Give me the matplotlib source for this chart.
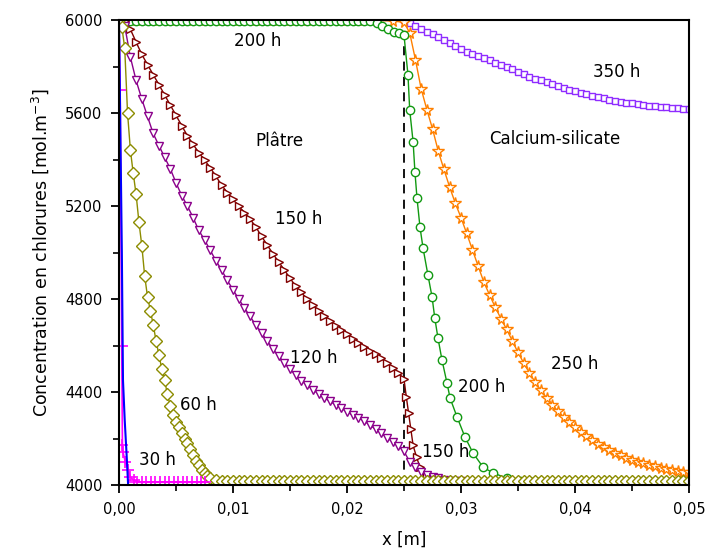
import matplotlib.pyplot as plt
from matplotlib.ticker import MultipleLocator, FuncFormatter
import numpy as np

# positions in mm (converted to m when plotted), concentrations in mol/m3
blue_x = [0.0, 0.05, 0.1, 0.2, 0.25, 0.35, 0.5, 0.7, 0.8]
blue_y = [6000, 5800, 5600, 5200, 5000, 4450, 4280, 4100, 4000]

h30_x = [0.0, 0.1, 0.24, 0.3, 0.35, 0.55, 0.8, 1.0, 1.3, 1.6, 2.0, 2.4, 2.8,
         3.2, 3.6, 4.0, 4.4, 4.8, 5.2, 5.6, 6.0, 6.4, 6.8, 7.2, 7.5]
h30_y = [6000, 5700, 4600, 4172, 4142, 4100, 4065, 4034, 4020, 4015, 4013, 4013,
         4013, 4013, 4013, 4013, 4013, 4013, 4013, 4013, 4013, 4013, 4013, 4013,
         4013]

h60_x = [0.0, 0.25, 0.5, 0.75, 1.0, 1.25, 1.5, 1.75, 2.0, 2.25, 2.5, 2.75, 3.0,
         3.25, 3.5, 3.75, 4.0, 4.25, 4.5, 4.75, 5.0, 5.25, 5.5, 5.75, 6.0, 6.25,
         6.5, 6.75, 7.0, 7.25, 7.5, 7.75, 8.0, 8.5, 9.0, 9.5, 10.0, 10.5, 11.0,
         11.5, 12.0, 12.5, 13.0, 13.5, 14.0, 14.5, 15.0, 15.5, 16.0, 16.5, 17.0,
         17.5, 18.0, 18.5, 19.0, 19.5, 20.0, 20.5, 21.0, 21.5, 22.0, 22.5, 23.0,
         23.5, 24.0, 24.5, 25.0, 25.5, 26.0, 26.5, 27.0, 27.5, 28.0, 28.5, 29.0,
         29.5, 30.0, 30.5, 31.0, 31.5, 32.0, 32.5, 33.0, 33.5, 34.0, 34.5, 35.0,
         35.5, 36.0, 36.5, 37.0, 37.5, 38.0, 38.5, 39.0, 39.5, 40.0, 40.5, 41.0,
         41.5, 42.0, 42.5, 43.0, 43.5, 44.0, 44.5, 45.0, 45.5, 46.0, 46.5, 47.0,
         47.5, 48.0, 48.5, 49.0, 49.5, 50.0]
h60_y = [6000, 5970, 5880, 5600, 5440, 5340, 5250, 5130, 5030, 4900, 4810, 4750,
         4690, 4620, 4560, 4500, 4450, 4390, 4340, 4300, 4270, 4250, 4225, 4200,
         4180, 4155, 4130, 4105, 4085, 4065, 4050, 4038, 4030, 4022, 4018, 4017,
         4016, 4016, 4016, 4016, 4016, 4016, 4016, 4016, 4016, 4016, 4016, 4016,
         4016, 4016, 4016, 4016, 4016, 4016, 4016, 4016, 4016, 4016, 4016, 4016,
         4016, 4016, 4016, 4016, 4016, 4016, 4016, 4016, 4016, 4016, 4016, 4016,
         4016, 4016, 4016, 4016, 4016, 4016, 4016, 4016, 4016, 4016, 4016, 4016,
         4016, 4016, 4016, 4016, 4016, 4016, 4016, 4016, 4016, 4016, 4016, 4016,
         4016, 4016, 4016, 4016, 4016, 4016, 4016, 4016, 4016, 4016, 4016, 4016,
         4016, 4016, 4016, 4016, 4016, 4016, 4016, 4016, 4016]

h120_x = [0.0, 0.5, 1.0, 1.5, 2.0, 2.5, 3.0, 3.5, 4.0, 4.5, 5.0, 5.5, 6.0, 6.5,
          7.0, 7.5, 8.0, 8.5, 9.0, 9.5, 10.0, 10.5, 11.0, 11.5, 12.0, 12.5, 13.0,
          13.5, 14.0, 14.5, 15.0, 15.5, 16.0, 16.5, 17.0, 17.5, 18.0, 18.5, 19.0,
          19.5, 20.0, 20.5, 21.0, 21.5, 22.0, 22.5, 23.0, 23.5, 24.0, 24.5, 25.0,
          25.5, 26.0, 26.5, 27.0, 27.5, 28.0, 28.5, 29.0, 29.5, 30.0]
h120_y = [6000, 5975, 5840, 5740, 5660, 5585, 5512, 5460, 5410, 5360, 5300, 5245,
          5200, 5150, 5095, 5055, 5010, 4965, 4925, 4880, 4840, 4800, 4762, 4725,
          4688, 4655, 4620, 4585, 4555, 4525, 4498, 4473, 4448, 4430, 4410, 4392,
          4375, 4360, 4345, 4330, 4315, 4300, 4288, 4275, 4258, 4240, 4222, 4204,
          4186, 4168, 4145, 4100, 4078, 4058, 4045, 4035, 4028, 4022, 4019, 4017,
          4016]

h150_x = [0.0, 0.5, 1.0, 1.5, 2.0, 2.5, 3.0, 3.5, 4.0, 4.5, 5.0, 5.5, 6.0, 6.5,
          7.0, 7.5, 8.0, 8.5, 9.0, 9.5, 10.0, 10.5, 11.0, 11.5, 12.0, 12.5, 13.0,
          13.5, 14.0, 14.5, 15.0, 15.5, 16.0, 16.5, 17.0, 17.5, 18.0, 18.5, 19.0,
          19.5, 20.0, 20.5, 21.0, 21.5, 22.0, 22.5, 23.0, 23.5, 24.0, 24.5, 25.0,
          25.2, 25.4, 25.6, 25.8, 26.1, 26.4, 27.0, 27.6, 28.5, 30.0]
h150_y = [6000, 5995, 5960, 5905, 5852, 5808, 5765, 5722, 5678, 5634, 5590, 5546,
          5502, 5465, 5430, 5398, 5365, 5328, 5290, 5258, 5228, 5200, 5172, 5144,
          5110, 5070, 5032, 4995, 4960, 4925, 4890, 4855, 4828, 4800, 4775, 4748,
          4725, 4705, 4685, 4665, 4648, 4630, 4612, 4595, 4578, 4562, 4545, 4525,
          4505, 4480, 4455, 4380, 4310, 4240, 4170, 4120, 4077, 4043, 4025, 4018,
          4016]

h200_x = [0.0, 0.5, 1.0, 1.5, 2.0, 2.5, 3.0, 3.5, 4.0, 4.5, 5.0, 5.5, 6.0, 6.5,
          7.0, 7.5, 8.0, 8.5, 9.0, 9.5, 10.0, 10.5, 11.0, 11.5, 12.0, 12.5, 13.0,
          13.5, 14.0, 14.5, 15.0, 15.5, 16.0, 16.5, 17.0, 17.5, 18.0, 18.5, 19.0,
          19.5, 20.0, 20.5, 21.0, 21.5, 22.0, 22.6, 23.1, 23.6, 24.1, 24.6, 25.0,
          25.35, 25.5, 25.8, 25.96, 26.14, 26.4, 26.67, 27.1, 27.46, 27.7, 27.98,
          28.33, 28.77, 29.04, 29.65, 30.35, 31.05, 31.93, 32.8, 34.0, 35.2, 36.5]
h200_y = [5995, 5995, 5995, 5995, 5995, 5995, 5995, 5995, 5995, 5995, 5995, 5995,
          5995, 5995, 5995, 5995, 5995, 5995, 5995, 5995, 5995, 5995, 5995, 5995,
          5995, 5995, 5995, 5995, 5995, 5995, 5995, 5995, 5995, 5995, 5995, 5995,
          5995, 5995, 5995, 5995, 5995, 5995, 5995, 5995, 5995, 5988, 5975, 5962,
          5950, 5942, 5935, 5763, 5613, 5475, 5346, 5234, 5110, 5019, 4903, 4809,
          4718, 4632, 4538, 4439, 4374, 4293, 4206, 4138, 4077, 4052, 4030, 4017,
          4016]

h250_x = [0.0, 1.5, 3.0, 4.5, 6.0, 7.5, 9.0, 10.5, 12.0, 13.5, 15.0, 16.5, 18.0,
          19.5, 21.0, 22.5, 24.0, 25.0, 25.5, 26.0, 26.5, 27.0, 27.5, 28.0, 28.5,
          29.0, 29.5, 30.0, 30.5, 31.0, 31.5, 32.0, 32.5, 33.0, 33.5, 34.0, 34.5,
          35.0, 35.5, 36.0, 36.5, 37.0, 37.5, 38.0, 38.5, 39.0, 39.5, 40.0, 40.5,
          41.0, 41.5, 42.0, 42.5, 43.0, 43.5, 44.0, 44.5, 45.0, 45.5, 46.0, 46.5,
          47.0, 47.5, 48.0, 48.5, 49.0, 49.5, 50.0]
h250_y = [5998, 5998, 5998, 5998, 5998, 5998, 5998, 5998, 5998, 5998, 5998, 5998,
          5998, 5998, 5998, 5998, 5996, 5990, 5945, 5830, 5705, 5615, 5532, 5437,
          5358, 5282, 5212, 5150, 5082, 5012, 4942, 4873, 4818, 4765, 4716, 4670,
          4620, 4570, 4525, 4482, 4443, 4408, 4376, 4346, 4318, 4293, 4270, 4248,
          4228, 4210, 4193, 4178, 4163, 4150, 4138, 4127, 4117, 4108, 4100, 4093,
          4086, 4080, 4075, 4070, 4066, 4062, 4058, 4055]

h350_x = [0.0, 5.0, 10.0, 15.0, 20.0, 25.0, 25.5, 26.0, 26.5, 27.0, 27.5, 28.0,
          28.5, 29.0, 29.5, 30.0, 30.5, 31.0, 31.5, 32.0, 32.5, 33.0, 33.5, 34.0,
          34.5, 35.0, 35.5, 36.0, 36.5, 37.0, 37.5, 38.0, 38.5, 39.0, 39.5, 40.0,
          40.5, 41.0, 41.5, 42.0, 42.5, 43.0, 43.5, 44.0, 44.5, 45.0, 45.5, 46.0,
          46.5, 47.0, 47.5, 48.0, 48.5, 49.0, 49.5, 50.0]
h350_y = [5998, 5998, 5998, 5998, 5998, 5998, 5988, 5975, 5962, 5950, 5938, 5926,
          5913, 5900, 5888, 5875, 5864, 5854, 5844, 5835, 5826, 5817, 5808, 5798,
          5788, 5778, 5767, 5756, 5748, 5740, 5732, 5724, 5716, 5708, 5700, 5693,
          5687, 5680, 5674, 5668, 5663, 5658, 5653, 5649, 5645, 5642, 5639, 5635,
          5632, 5629, 5627, 5625, 5622, 5620, 5618, 5616]

interface_x = 25.0

labels = ["200 h", "Plâtre", "150 h", "120 h", "60 h", "30 h",
          "150 h", "200 h", "250 h", "Calcium-silicate", "350 h"]
label_x = [12.2, 14.05, 15.8, 17.1, 7.0, 3.4, 28.7, 31.85, 40.0, 38.25, 43.7]
label_y = [5910, 5480, 5144, 4546, 4344, 4108, 4142, 4421, 4520, 5488, 5776]

plt.rcParams['font.family'] = 'DejaVu Sans'

fig = plt.figure(figsize=(7.09, 5.59), dpi=100)
ax = fig.add_axes([119 / 709, 74 / 559, 570 / 709, 465 / 559])


def mm(v):
    return np.array(v) / 1000.0


open_kw = dict(markerfacecolor='white', markeredgewidth=1.0, linewidth=1.0)

ax.plot(mm(h350_x), h350_y, color='#8f2bff', marker='s', markersize=4.5, **open_kw)
ax.plot(mm(h250_x), h250_y, color='#ff8000', marker='*', markersize=8.5, **open_kw)
ax.plot(mm(h200_x), h200_y, color='#119911', marker='o', markersize=6, **open_kw)
ax.plot(mm(h150_x), h150_y, color='#800000', marker='>', markersize=6, **open_kw)
ax.plot(mm(h120_x), h120_y, color='#8b008b', marker='v', markersize=6, **open_kw)
ax.plot(mm(h60_x), h60_y, color='#8c8c00', marker='D', markersize=6.5, **open_kw)
ax.plot(mm(h30_x), h30_y, color='#ff00ff', marker='+', markersize=9,
        markeredgewidth=1.2, linewidth=1.2)
ax.plot(mm(blue_x), blue_y, color='#0000ff', linewidth=1.5)

ax.axvline(interface_x / 1000.0, color='black', linestyle=(0, (5, 3.5)),
           linewidth=1.3, zorder=1)

for t, x, y in zip(labels, label_x, label_y):
    ax.text(x / 1000.0, y, t, fontsize=12, ha='center', va='center')

ax.set_xlim(0, 0.05)
ax.set_ylim(4000, 6000)
ax.xaxis.set_major_locator(MultipleLocator(0.01))
ax.xaxis.set_minor_locator(MultipleLocator(0.005))
ax.yaxis.set_major_locator(MultipleLocator(400))
ax.yaxis.set_minor_locator(MultipleLocator(200))
ax.xaxis.set_major_formatter(FuncFormatter(lambda v, p: f"{v:.2f}".replace('.', ',')))
ax.yaxis.set_major_formatter(FuncFormatter(lambda v, p: f"{v:.0f}"))
ax.tick_params(which='major', direction='out', length=6, width=1.3,
               labelsize=10.5, pad=6)
ax.tick_params(which='minor', direction='out', length=4, width=1.2)
for s in ax.spines.values():
    s.set_linewidth(1.5)

ax.set_xlabel("x [m]", fontsize=12, labelpad=10)
ax.set_ylabel("Concentration en chlorures [mol.m$^{-3}$]", fontsize=12.5, labelpad=10)

fig.savefig("out.png", dpi=100)
